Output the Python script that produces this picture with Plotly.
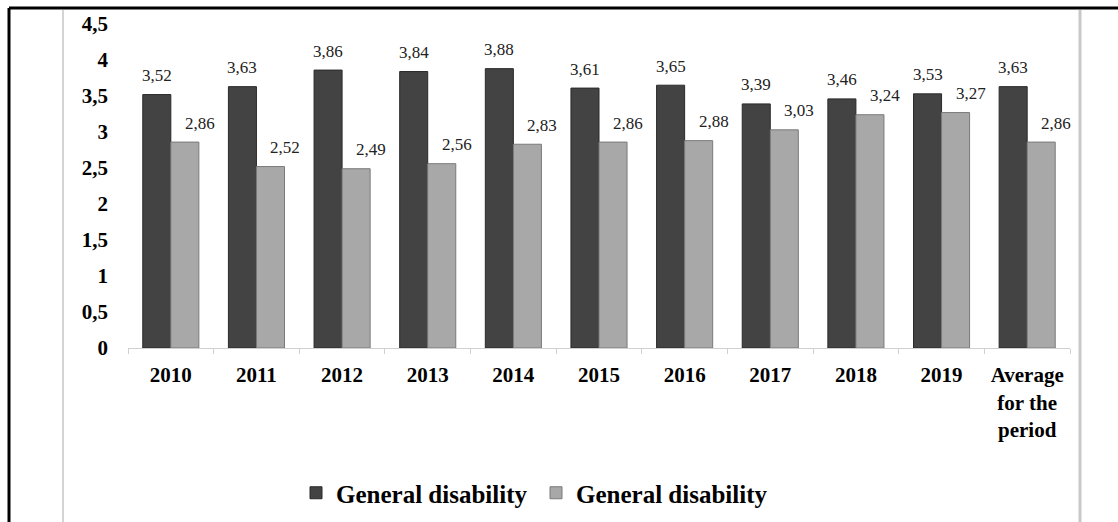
import plotly.graph_objects as go

categories = ["2010", "2011", "2012", "2013", "2014", "2015", "2016", "2017", "2018", "2019",
              "Average<br>for the<br>period"]
series_a_name = "General disability"
series_b_name = "General disability"
series_a = [3.52, 3.63, 3.86, 3.84, 3.88, 3.61, 3.65, 3.39, 3.46, 3.53, 3.63]
series_b = [2.86, 2.52, 2.49, 2.56, 2.83, 2.86, 2.88, 3.03, 3.24, 3.27, 2.86]
y_ticks = [0, 0.5, 1, 1.5, 2, 2.5, 3, 3.5, 4, 4.5]

W, H = 1118, 522
L, R, T, B = 128, 48, 24, 174
PW, PH = W - L - R, H - T - B

def px_x(x):
    return (x - L) / PW

def px_y(y):
    return (H - B - y) / PH

def fmt(v):
    return f"{v:.2f}".replace(".", ",")

FONT = "Liberation Serif"

fig = go.Figure()
fig.add_trace(go.Bar(x=categories, y=series_a, name=series_a_name,
                     marker=dict(color="#434343", line=dict(color="#2a2a2a", width=1))))
fig.add_trace(go.Bar(x=categories, y=series_b, name=series_b_name,
                     marker=dict(color="#a8a8a8", line=dict(color="#7a7a7a", width=1))))

annotations = []
for i, (a, b) in enumerate(zip(series_a, series_b)):
    annotations.append(dict(x=i, y=a, xref="x", yref="y", text=fmt(a), showarrow=False,
                            xshift=-14, yshift=19, font=dict(family=FONT, size=17, color="#222")))
    annotations.append(dict(x=i, y=b, xref="x", yref="y", text=fmt(b), showarrow=False,
                            xshift=29, yshift=19, font=dict(family=FONT, size=17, color="#222")))

shapes = [
    dict(type="line", xref="paper", yref="paper", x0=px_x(9), x1=px_x(W), y0=px_y(8), y1=px_y(8),
         line=dict(color="black", width=3)),
    dict(type="line", xref="paper", yref="paper", x0=px_x(9), x1=px_x(9), y0=px_y(8), y1=px_y(H),
         line=dict(color="black", width=3)),
    dict(type="line", xref="paper", yref="paper", x0=px_x(63), x1=px_x(63), y0=px_y(10), y1=px_y(H),
         line=dict(color="#d4d4d4", width=2)),
    dict(type="line", xref="paper", yref="paper", x0=px_x(1080), x1=px_x(1080), y0=px_y(10), y1=px_y(H),
         line=dict(color="#c8c8c8", width=3)),
]

fig.update_layout(
    width=W, height=H,
    margin=dict(l=L, r=R, t=T, b=B, autoexpand=False),
    paper_bgcolor="white", plot_bgcolor="white",
    separators=", ",
    barmode="group", bargap=0.345, bargroupgap=0,
    font=dict(family=FONT, color="black"),
    showlegend=True,
    legend=dict(orientation="h", x=px_x(536), xanchor="center", y=px_y(493), yanchor="middle",
                font=dict(family=FONT, size=25, color="black", weight="bold"),
                entrywidth=195, traceorder="normal"),
    annotations=annotations,
    shapes=shapes,
    xaxis=dict(type="category", categoryorder="array", categoryarray=categories,
               range=[-0.5, len(categories) - 0.5], automargin=False,
               showgrid=False, showline=True, linecolor="#d0d0d0", linewidth=1,
               ticks="outside", ticklen=5, tickcolor="#d0d0d0", tickson="boundaries",
               tickangle=0, ticklabelstandoff=8,
               tickfont=dict(family=FONT, size=21, color="black", weight="bold")),
    yaxis=dict(range=[0, 4.5], tickvals=y_ticks, showgrid=False, showline=False, zeroline=False,
               ticks="", ticklabelstandoff=19, automargin=False,
               tickfont=dict(family=FONT, size=21, color="black", weight="bold")),
)

fig.write_html("out.html")
